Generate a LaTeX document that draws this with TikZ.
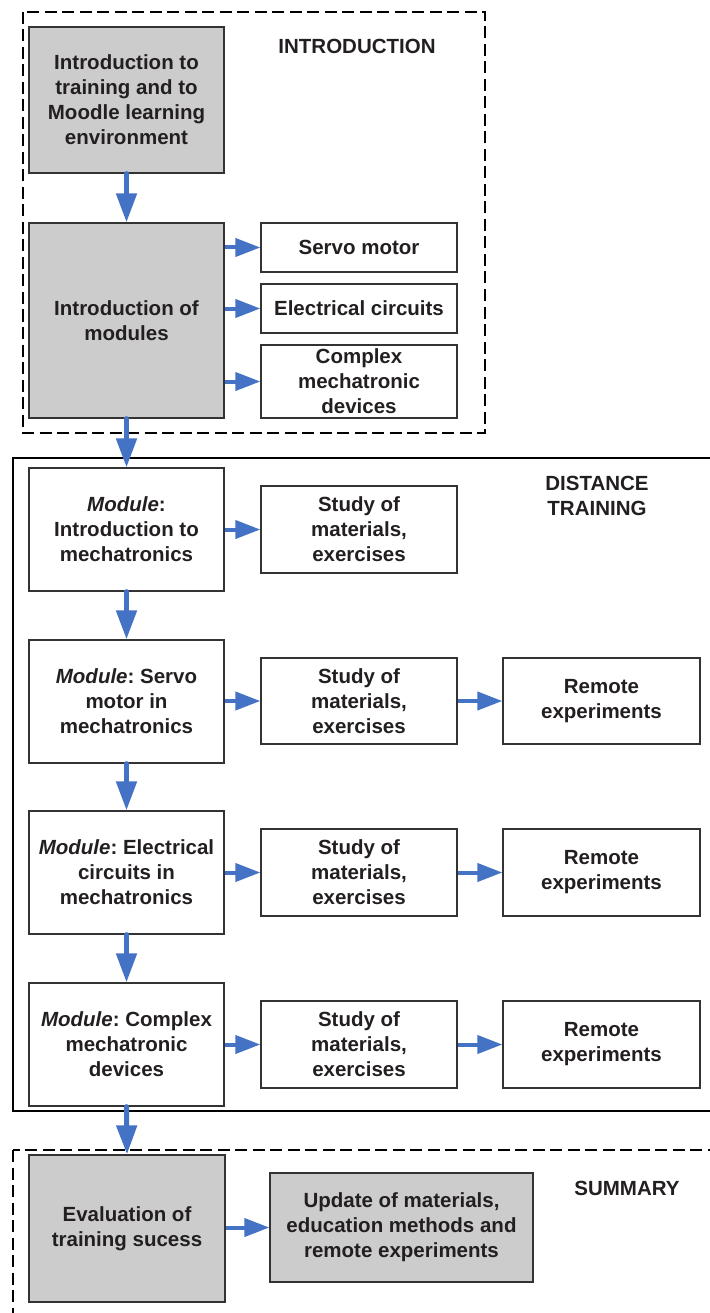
\documentclass[tikz,border=0pt]{standalone}
\usepackage{fontspec}
\setmainfont{Liberation Sans}
\usetikzlibrary{arrows.meta,calc}
\definecolor{arrowblue}{RGB}{68,114,196}
\definecolor{boxgray}{RGB}{204,204,204}
\definecolor{txt}{RGB}{35,31,32}
\frenchspacing
\begin{document}
\begin{tikzpicture}[x=1pt,y=-1pt,
  every node/.style={font=\fontsize{20.5}{25}\selectfont\bfseries, text=txt},
  box/.style={draw=black!80, line width=1.3pt, inner sep=0pt, align=center},
  graybox/.style={box, fill=boxgray},
  vflow/.style={draw=arrowblue, line width=5pt, line cap=round, -{Triangle[length=29pt,width=20pt]}},
  hflow/.style={draw=arrowblue, line width=4pt, -{Triangle[length=25pt,width=18pt]}},
  section/.style={line width=2pt, draw=black},
  dashsec/.style={section, dash pattern=on 12pt off 5.5pt},
  label/.style={align=center}
]
\useasboundingbox (0,0) rectangle (709,1313);

% section frames
\draw[dashsec] (23,12) rectangle (485,433);
\draw[section] (13,458) rectangle (720,1111);
\draw[dashsec] (13,1150) rectangle (720,1330);

\node[label] (lintro) at (357,46) {INTRODUCTION};
\node[label] (ldist) at (597,496) {DISTANCE\\TRAINING};
\node[label] (lsum) at (627,1188) {SUMMARY};

% introduction
\node[graybox, minimum width=195pt, minimum height=146pt] (b1) at (126.5,100) {Introduction to\\training and to\\Moodle learning\\environment};
\node[graybox, minimum width=195pt, minimum height=195pt] (b2) at (126.5,320.5) {Introduction of\\modules};
\node[box, minimum width=196pt, minimum height=49pt] (servo) at (359,247.5) {Servo motor};
\node[box, minimum width=196pt, minimum height=49pt] (elec) at (359,308.5) {Electrical circuits};
\node[box, minimum width=196pt, minimum height=73pt] (cplx) at (359,381.5) {Complex\\mechatronic\\devices};

% modules
\node[box, minimum width=195pt, minimum height=123pt] (m1) at (126.5,529.5) {\textit{Module}:\\Introduction to\\mechatronics};
\node[box, minimum width=195pt, minimum height=123pt] (m2) at (126.5,701.5) {\textit{Module}: Servo\\motor in\\mechatronics};
\node[box, minimum width=195pt, minimum height=123pt] (m3) at (126.5,872.5) {\textit{Module}: Electrical\\circuits in\\mechatronics};
\node[box, minimum width=195pt, minimum height=123pt] (m4) at (126.5,1044.5) {\textit{Module}: Complex\\mechatronic\\devices};

\node[box, minimum width=196pt, minimum height=87pt] (s1) at (359,529.5) {Study of\\materials,\\exercises};
\node[box, minimum width=196pt, minimum height=86pt] (s2) at (359,701) {Study of\\materials,\\exercises};
\node[box, minimum width=196pt, minimum height=87pt] (s3) at (359,872.5) {Study of\\materials,\\exercises};
\node[box, minimum width=196pt, minimum height=87pt] (s4) at (359,1044.5) {Study of\\materials,\\exercises};

\node[box, minimum width=197pt, minimum height=86pt] (r2) at (601.5,701) {Remote\\experiments};
\node[box, minimum width=197pt, minimum height=87pt] (r3) at (601.5,872.5) {Remote\\experiments};
\node[box, minimum width=197pt, minimum height=87pt] (r4) at (601.5,1044.5) {Remote\\experiments};

% summary
\node[graybox, minimum width=196pt, minimum height=147pt] (ev) at (127,1228.5) {Evaluation of\\training sucess};
\node[graybox, minimum width=263pt, minimum height=109pt] (up) at (401.5,1227.5) {Update of materials,\\education methods and\\remote experiments};

% vertical arrows
\draw[vflow] (b1.south) -- (b2.north);
\draw[vflow] (b2.south) -- (m1.north);
\draw[vflow] (m1.south) -- (m2.north);
\draw[vflow] (m2.south) -- (m3.north);
\draw[vflow] (m3.south) -- (m4.north);
\draw[vflow] (m4.south) -- (ev.north);

% horizontal arrows
\draw[hflow] (b2.east |- servo.west) -- (servo.west);
\draw[hflow] (b2.east |- elec.west) -- (elec.west);
\draw[hflow] (b2.east |- cplx.west) -- (cplx.west);
\draw[hflow] (m1.east |- s1.west) -- (s1.west);
\draw[hflow] (m2.east |- s2.west) -- (s2.west);
\draw[hflow] (m3.east |- s3.west) -- (s3.west);
\draw[hflow] (m4.east |- s4.west) -- (s4.west);
\draw[hflow] (s2.east) -- (r2.west);
\draw[hflow] (s3.east) -- (r3.west);
\draw[hflow] (s4.east) -- (r4.west);
\draw[hflow] (ev.east |- up.west) -- (up.west);
\end{tikzpicture}
\end{document}
